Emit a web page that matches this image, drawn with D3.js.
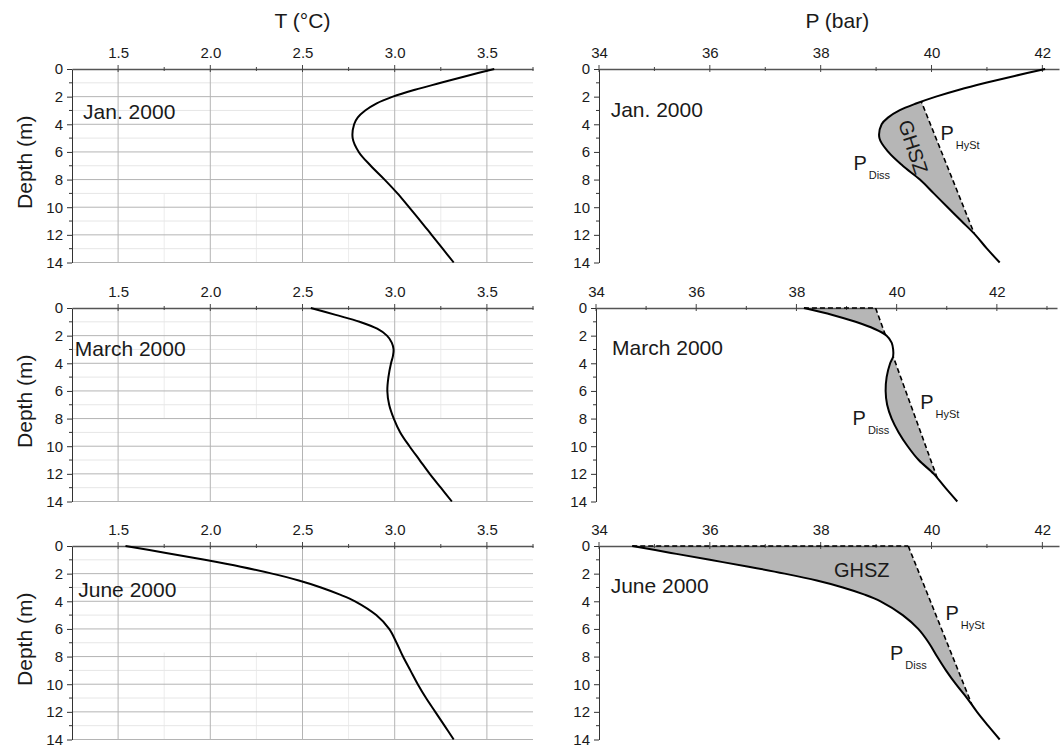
<!DOCTYPE html>
<html>
<head>
<meta charset="utf-8">
<script src="https://cdn.jsdelivr.net/npm/d3@7"></script>
<style>
  body { margin: 0; background: #fff; }
  text { font-family: "Liberation Sans", Arial, sans-serif; fill: #1a1a1a; }
</style>
</head>
<body>
<svg id="chart" width="1062" height="748"></svg>
<script>
// depth levels (m) shared by all profiles
var depths = [0, 0.5, 1, 1.5, 2, 2.5, 3, 3.5, 4, 5, 6, 7, 8, 9, 10, 11, 12, 13, 14];

// temperature profiles (°C)
var tJan = [3.54, 3.39, 3.25, 3.11, 2.99, 2.90, 2.84, 2.80, 2.78, 2.772, 2.805, 2.87, 2.945, 3.015, 3.078, 3.14, 3.20, 3.26, 3.32];
var tMar = [2.545, 2.68, 2.81, 2.905, 2.958, 2.984, 2.994, 2.99, 2.98, 2.966, 2.96, 2.97, 2.995, 3.03, 3.08, 3.135, 3.19, 3.25, 3.31];
var tJun = [1.54, 1.76, 1.97, 2.165, 2.335, 2.48, 2.60, 2.70, 2.785, 2.90, 2.97, 3.01, 3.045, 3.085, 3.125, 3.17, 3.22, 3.27, 3.32];

// hydrate dissociation pressure (bar)
var pJan = [42.05, 41.5, 40.98, 40.5, 40.08, 39.72, 39.42, 39.22, 39.1, 39.06, 39.22, 39.48, 39.79, 40.04, 40.29, 40.54, 40.79, 41.0, 41.23];
var pMar = [38.15, 38.72, 39.18, 39.55, 39.8, 39.9, 39.93, 39.93, 39.87, 39.8, 39.78, 39.81, 39.9, 40.04, 40.22, 40.44, 40.74, 40.97, 41.21];
var pJun = [34.6, 35.3, 36.0, 36.7, 37.35, 37.93, 38.4, 38.78, 39.08, 39.48, 39.76, 39.95, 40.1, 40.26, 40.44, 40.64, 40.82, 41.02, 41.23];

// hydrostatic pressure (bar)
var hystDepth = [0, 14];
var hystP = [39.58, 40.98];

var months = ["Jan. 2000", "March 2000", "June 2000"];
var tTicks = [1.5, 2.0, 2.5, 3.0, 3.5];
var tMinor = [1.75, 2.25, 2.75, 3.25, 3.75];
var pTicks = [34, 36, 38, 40, 42];
var pMinorTicks = [35, 37, 39, 41, 43];
var depthTicks = [0, 2, 4, 6, 8, 10, 12, 14];
var depthMinor = [1, 3, 5, 7, 9, 11, 13];
var pMax = [42.3, 43.2, 42.3];
// faint minor vertical grid only shows over part of each T panel
var minorGridSpan = [[9, 14], [0, 8], [7.7, 14]];

// label positions in data units
var monthPosT = [[1.31, 3.65], [1.265, 3.49], [1.284, 3.69]];
var monthPosP = [[34.21, 3.49], [34.32, 3.39], [34.21, 3.4]];
var ghszLabels = [{ row: 0, p: 39.67, d: 5.65, rot: 72 }, { row: 2, p: 38.74, d: 2.24, rot: 0 }];
var pLabels = [
  { row: 0, sub: "HySt", p: 40.16, d: 5.17 }, { row: 0, sub: "Diss", p: 38.59, d: 7.28 },
  { row: 1, sub: "HySt", p: 40.47, d: 7.28 }, { row: 1, sub: "Diss", p: 39.12, d: 8.49 },
  { row: 2, sub: "HySt", p: 40.25, d: 5.37 }, { row: 2, sub: "Diss", p: 39.25, d: 8.27 }
];

var tSeries = [tJan, tMar, tJun];
var pSeries = [pJan, pMar, pJun];

var svg = d3.select("#chart");
var defs = svg.append("defs");

var rowTop = [69, 308, 546];
var rowH = 193.5;
var leftX = 72, leftW = 461;
var rightX = [599, 596, 599], rightW = [460, 461, 460];

var curve = d3.curveCatmullRom.alpha(0.5);

rowTop.forEach(function(top, i) {
  var y = d3.scaleLinear().domain([0, 14]).range([top, top + rowH]);
  var xT = d3.scaleLinear().domain([1.25, 3.75]).range([leftX, leftX + leftW]);
  var xP = d3.scaleLinear().domain([34, pMax[i]]).range([rightX[i], rightX[i] + rightW[i]]);

  // ---------- temperature panel ----------
  var gT = svg.append("g");
  gT.selectAll(".minv").data(tMinor.slice(0, 4)).enter().append("line")
    .attr("x1", xT).attr("x2", xT)
    .attr("y1", y(minorGridSpan[i][0])).attr("y2", y(minorGridSpan[i][1]))
    .attr("stroke", "#ececec").attr("stroke-width", 1);
  gT.selectAll(".minh").data(depthMinor).enter().append("line")
    .attr("x1", leftX).attr("x2", leftX + leftW)
    .attr("y1", y).attr("y2", y)
    .attr("stroke", "#e6e6e6").attr("stroke-width", 1);
  gT.selectAll(".majv").data(tTicks).enter().append("line")
    .attr("x1", xT).attr("x2", xT)
    .attr("y1", y(0)).attr("y2", y(14))
    .attr("stroke", "#b4b4b4").attr("stroke-width", 1);
  gT.selectAll(".majh").data(depthTicks.slice(1)).enter().append("line")
    .attr("x1", leftX).attr("x2", leftX + leftW)
    .attr("y1", y).attr("y2", y)
    .attr("stroke", "#b4b4b4").attr("stroke-width", 1);

  drawAxes(gT, xT, y, tTicks, tMinor, d3.format(".1f"));

  var tLine = d3.line()
    .x(function(d) { return xT(d.v); })
    .y(function(d) { return y(d.d); })
    .curve(curve);
  gT.append("path")
    .attr("d", tLine(depths.map(function(d, k) { return { d: d, v: tSeries[i][k] }; })))
    .attr("fill", "none").attr("stroke", "#000").attr("stroke-width", 2);

  gT.append("text").attr("x", xT(monthPosT[i][0])).attr("y", y(monthPosT[i][1]))
    .attr("font-size", 21).text(months[i]);

  gT.append("text")
    .attr("transform", "translate(32," + y(6.75) + ") rotate(-90)")
    .attr("text-anchor", "middle").attr("font-size", 21).text("Depth (m)");

  if (i === 0) {
    gT.append("text").attr("x", xT(2.5)).attr("y", 28)
      .attr("text-anchor", "middle").attr("font-size", 21).text("T (°C)");
  }

  // ---------- pressure panel ----------
  var gP = svg.append("g");
  var pts = depths.map(function(d, k) { return { d: d, v: pSeries[i][k] }; });
  var hyst = hystDepth.map(function(d, k) { return { d: d, v: hystP[k] }; });

  var rightOf = d3.area()
    .y(function(d) { return y(d.d); })
    .x0(function(d) { return xP(d.v); })
    .x1(xP.range()[1] + 30)
    .curve(curve);
  var leftOf = d3.area()
    .y(function(d) { return y(d.d); })
    .x0(xP.range()[0] - 30)
    .x1(function(d) { return xP(d.v); });

  defs.append("clipPath").attr("id", "diss" + i).append("path").attr("d", rightOf(pts));
  defs.append("clipPath").attr("id", "hyst" + i).append("path").attr("d", leftOf(hyst));

  // GHSZ: right of P_diss and left of P_HySt
  gP.append("g").attr("clip-path", "url(#hyst" + i + ")")
    .append("rect")
    .attr("clip-path", "url(#diss" + i + ")")
    .attr("x", xP.range()[0]).attr("y", y(0))
    .attr("width", rightW[i]).attr("height", rowH)
    .attr("fill", "#b6b6b6");

  drawAxes(gP, xP, y, pTicks, pMinorTicks.filter(function(v) { return v < pMax[i]; }), d3.format("d"));

  var pLine = d3.line()
    .x(function(d) { return xP(d.v); })
    .y(function(d) { return y(d.d); })
    .curve(curve);
  gP.append("path").attr("d", pLine(pts))
    .attr("fill", "none").attr("stroke", "#000").attr("stroke-width", 2);

  gP.append("path").attr("d", pLine(hyst))
    .attr("clip-path", "url(#diss" + i + ")")
    .attr("fill", "none").attr("stroke", "#000").attr("stroke-width", 1.6)
    .attr("stroke-dasharray", "5,3");
  if (pSeries[i][0] < hystP[0]) {
    gP.append("line")
      .attr("x1", xP(pSeries[i][0])).attr("x2", xP(hystP[0]))
      .attr("y1", y(0)).attr("y2", y(0))
      .attr("stroke", "#000").attr("stroke-width", 1.6)
      .attr("stroke-dasharray", "5,3");
  }

  gP.append("text").attr("x", xP(monthPosP[i][0])).attr("y", y(monthPosP[i][1]))
    .attr("font-size", 21).text(months[i]);

  ghszLabels.filter(function(l) { return l.row === i; }).forEach(function(l) {
    gP.append("text")
      .attr("transform", "translate(" + xP(l.p) + "," + y(l.d) + ") rotate(" + l.rot + ")")
      .attr("text-anchor", "middle")
      .attr("dy", l.rot ? "0.35em" : "0")
      .attr("font-size", 20).text("GHSZ");
  });

  pLabels.filter(function(l) { return l.row === i; }).forEach(function(l) {
    var t = gP.append("text").attr("x", xP(l.p)).attr("y", y(l.d)).attr("font-size", 20);
    t.append("tspan").text("P");
    t.append("tspan").attr("dx", 2).attr("dy", 9).attr("font-size", 11).text(l.sub);
  });

  if (i === 0) {
    gP.append("text").attr("x", xP(38.3)).attr("y", 28)
      .attr("text-anchor", "middle").attr("font-size", 21).text("P (bar)");
  }
});

function drawAxes(g, x, y, major, minor, fmt) {
  var top = y.range()[0];
  var left = x.range()[0];

  var ax = g.append("g").attr("transform", "translate(0," + top + ")")
    .call(d3.axisTop(x).tickValues(major).tickFormat(fmt).tickSize(0).tickPadding(11));
  ax.select(".domain").attr("stroke", "#555").attr("stroke-width", 1.6);
  ax.selectAll("text").attr("font-size", 15).attr("fill", "#1a1a1a")
    .style("font-family", "'Liberation Sans', Arial, sans-serif");

  g.selectAll(null).data(major).enter().append("line")
    .attr("x1", x).attr("x2", x).attr("y1", top - 4).attr("y2", top + 3)
    .attr("stroke", "#444").attr("stroke-width", 1);
  g.selectAll(null).data(minor).enter().append("line")
    .attr("x1", x).attr("x2", x).attr("y1", top - 2).attr("y2", top + 2)
    .attr("stroke", "#444").attr("stroke-width", 1);

  var ay = g.append("g").attr("transform", "translate(" + left + ",0)")
    .call(d3.axisLeft(y).tickValues(depthTicks).tickSize(5).tickPadding(4).tickSizeOuter(0));
  ay.select(".domain").attr("stroke", "#333").attr("stroke-width", 1);
  ay.selectAll(".tick line").attr("stroke", "#333");
  ay.selectAll("text").attr("font-size", 15).attr("fill", "#1a1a1a")
    .style("font-family", "'Liberation Sans', Arial, sans-serif");

  g.selectAll(null).data(depthMinor).enter().append("line")
    .attr("x1", left - 3).attr("x2", left)
    .attr("y1", y).attr("y2", y)
    .attr("stroke", "#333").attr("stroke-width", 1);
}
</script>
</body>
</html>
